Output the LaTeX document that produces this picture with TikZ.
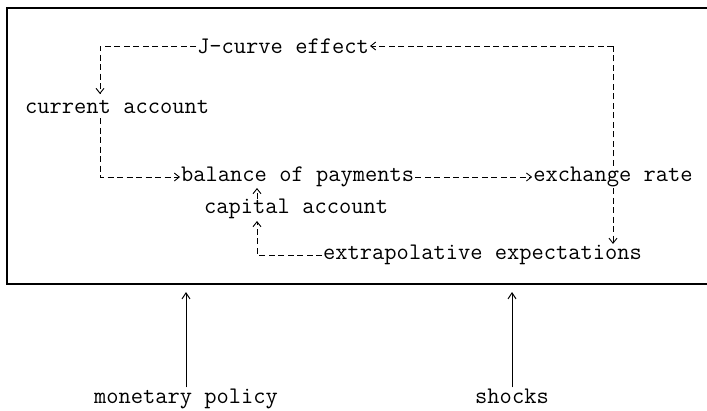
\documentclass[tikz,border=0pt]{standalone}
\usepackage{fontspec}
\usetikzlibrary{positioning,arrows.meta}

\begin{document}
\begin{tikzpicture}[
    x=1pt, y=-1pt,
    lbl/.style={inner sep=1pt, font=\ttfamily\fontsize{23.8}{24}\selectfont},
    flow/.style={line width=0.9pt, dash pattern=on 6pt off 3.5pt, -{Straight Barb[length=5pt,width=8pt]}},
    link/.style={line width=0.9pt, dash pattern=on 6pt off 3.5pt},
    push/.style={line width=1pt, -{Straight Barb[length=6pt,width=8pt]}}
]
    \useasboundingbox (0,0) rectangle (707,410);
    % Frame
    \draw[line width=1.3pt] (7,8) rectangle (712,284);

    % Nodes
    \node[lbl, anchor=west] (jcurve) at (196,46) {J-curve effect};
    \node[lbl, anchor=west] (current) at (24,107) {current account};
    \node[lbl, anchor=west] (balance) at (180,177) {balance of payments};
    \node[lbl] (exchange) at (613,177) {exchange rate};
    \node[lbl, anchor=west] (capital) at (203,209) {capital account};
    \node[lbl, anchor=west] (extrap) at (322,255) {extrapolative expectations};
    \node[lbl, anchor=base] (monetary) at (186,403) {monetary policy};
    \node[lbl, anchor=base] (shocks) at (512,403) {shocks};

    \coordinate (mpin) at (186,292);
    \coordinate (shin) at (512,292);

    % Arrows
    \draw[flow] (jcurve.west) -| (100,46) -- (100,94);
    \draw[link] (exchange.north) -- (613,46);
    \draw[flow] (613,46) -- (jcurve.east);
    \draw[flow] (100,118) |- (balance.west);
    \draw[flow] (balance.east) -- (exchange.west);
    \draw[flow] (exchange.south) -- (exchange.south |- extrap.north);
    \draw[flow] (257,199) -- (257,188);
    \draw[flow] (extrap.west) -| (257,221);
    \draw[push] (monetary.north) -- (mpin);
    \draw[push] (shocks.north) -- (shin);
\end{tikzpicture}
\end{document}
